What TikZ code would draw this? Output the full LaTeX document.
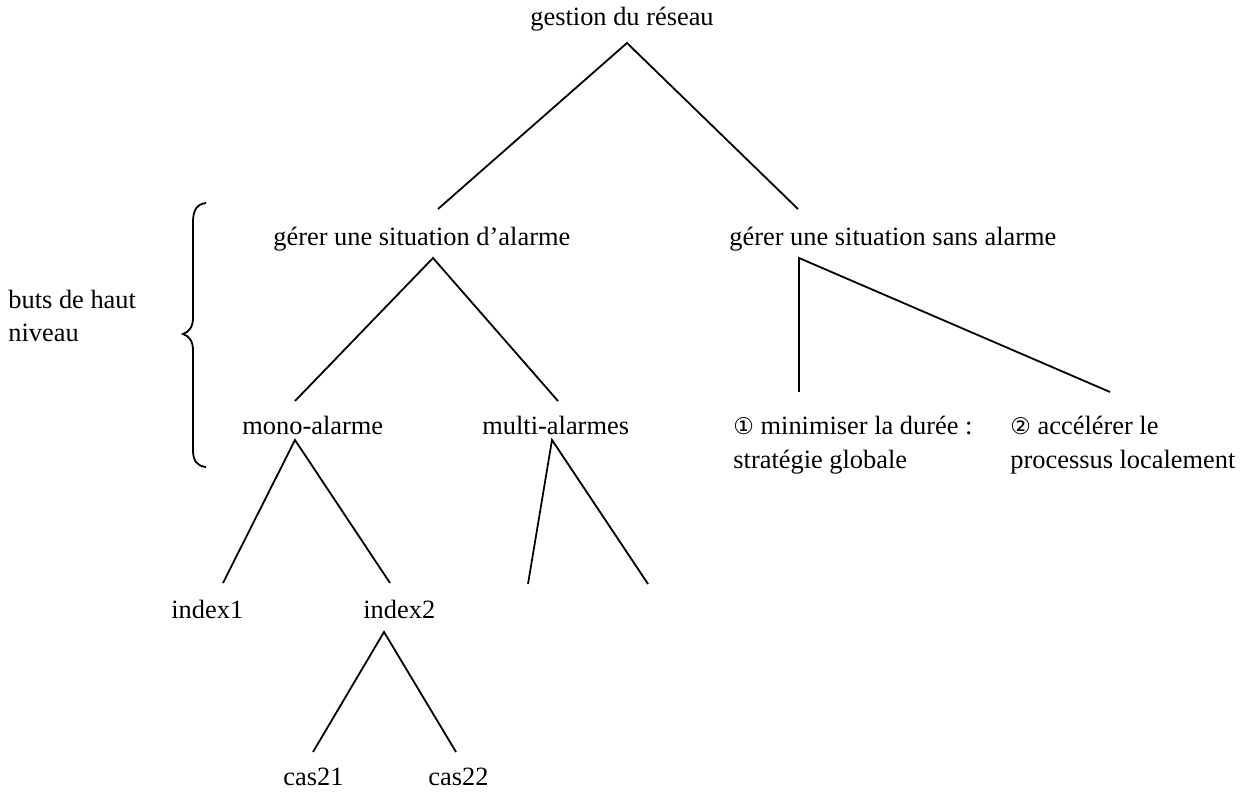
\documentclass[tikz,border=0pt]{standalone}
\usepackage{fontspec}
\setmainfont{Liberation Serif}
\newfontfamily\symfont{DejaVu Sans}
\begin{document}
\begin{tikzpicture}[x=0.5pt,y=-0.5pt,
  lbl/.style={inner sep=0pt, anchor=base west, font=\fontsize{13.2}{16.5}\selectfont},
  branch/.style={line width=0.9pt, line join=miter},
  brace/.style={line width=0.9pt}]
\useasboundingbox (0,0) rectangle (1250,792);

% labels
\node[lbl] (root)  at (530,26)  {gestion du réseau};
\node[lbl] (alarm) at (273,246) {gérer une situation d’alarme};
\node[lbl] (sans)  at (729,246) {gérer une situation sans alarme};
\node[lbl] (mono)  at (242,435) {mono-alarme};
\node[lbl] (multi) at (482,435) {multi-alarmes};
\node[lbl] (glob1) at (733,435) {{\symfont\fontsize{11.5}{14}\selectfont ①} minimiser la durée :};
\node[lbl] (glob2) at (733,468) {stratégie globale};
\node[lbl] (loc1)  at (1010,435) {{\symfont\fontsize{11.5}{14}\selectfont ②} accélérer le};
\node[lbl] (loc2)  at (1010,468) {processus localement};
\node[lbl] (idx1)  at (171,618) {index1};
\node[lbl] (idx2)  at (363,618) {index2};
\node[lbl] (cas21) at (283,785) {cas21};
\node[lbl] (cas22) at (428,785) {cas22};
\node[lbl] (buts1) at (8,308)   {buts de haut};
\node[lbl] (buts2) at (8,342)   {niveau};

% branch points and free ends
\coordinate (rootTop)  at (627,43);
\coordinate (rootL)    at (438,209);
\coordinate (rootR)    at (798,209);
\coordinate (alarmTop) at (433,258);
\coordinate (alarmL)   at (295,401);
\coordinate (alarmR)   at (558,401);
\coordinate (sansTop)  at (799,258);
\coordinate (sansL)    at (799,392);
\coordinate (sansR)    at (1110,392);
\coordinate (monoTop)  at (295,440);
\coordinate (monoL)    at (223,583);
\coordinate (monoR)    at (390,583);
\coordinate (multiTop) at (552,440);
\coordinate (multiL)   at (528,584);
\coordinate (multiR)   at (648,584);
\coordinate (idxTop)   at (384,632);
\coordinate (idxL)     at (313,752);
\coordinate (idxR)     at (456,752);

% tree branches
\draw[branch] (rootL) -- (rootTop) -- (rootR);
\draw[branch] (alarmL) -- (alarmTop) -- (alarmR);
\draw[branch] (sansL) -- (sansTop) -- (sansR);
\draw[branch] (monoL) -- (monoTop) -- (monoR);
\draw[branch] (multiL) -- (multiTop) -- (multiR);
\draw[branch] (idxL) -- (idxTop) -- (idxR);

% curly brace grouping the upper levels
\draw[brace] (206,203) .. controls (197,204) and (193,210) .. (193,222)
  -- (193,318) .. controls (193,327) and (189,332) .. (183,334)
  .. controls (189,336) and (193,341) .. (193,350)
  -- (193,450) .. controls (193,461) and (197,466) .. (206,467);
\end{tikzpicture}
\end{document}
